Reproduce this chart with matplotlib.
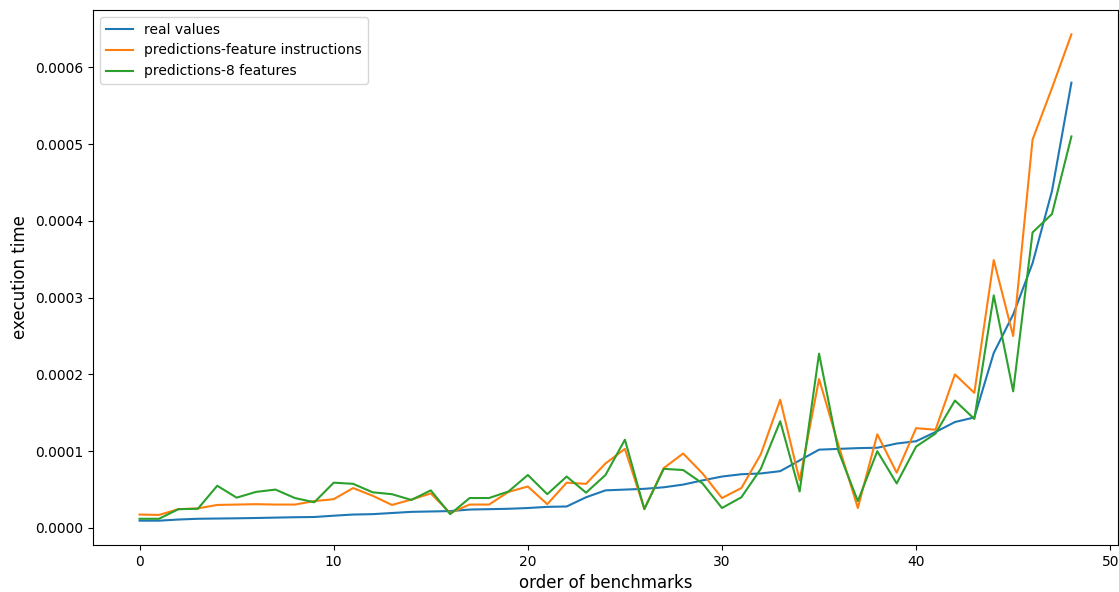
import matplotlib
matplotlib.use('Agg')
import matplotlib.pyplot as plt
import numpy as np

# values in microseconds-ish units (x1e-6)
real_values = [9.5, 9.5, 11, 12, 12.3, 12.6, 13, 13.5, 14, 14.3,
               16, 17.5, 18, 19.5, 21, 21.5, 22, 24, 24.5, 25,
               26, 27.5, 28, 40, 49, 50, 51, 53, 56.5, 62,
               67, 70, 71, 74, 88, 102, 103, 104, 104.5, 110,
               113, 125, 138, 144, 228, 278, 345, 439, 580]
pred_instructions = [17.5, 17, 24.5, 25.5, 30, 30.5, 31, 30.5, 30.5, 35,
                     37.5, 52, 42, 30, 37, 45, 19.5, 30.5, 30.5, 47,
                     54, 31, 59, 57.5, 84, 103, 25, 78, 97, 71,
                     39, 52, 96, 167, 62, 194, 108, 26, 122, 72,
                     130, 128, 200, 176, 349, 250, 506, 573, 643]
pred_8_features = [12, 12, 24.5, 25, 55, 39.5, 47, 50, 39, 33.5,
                   59, 57.5, 46.5, 44, 36.5, 49, 18, 39, 39, 47.5,
                   69, 44, 67, 46, 69, 115, 24.5, 77, 75.5, 58,
                   26, 40, 77, 139, 47.5, 227, 100, 35, 100, 58,
                   106, 123, 166, 142, 303, 178, 385, 409, 510]

real_values = np.array(real_values) * 1e-6
pred_instructions = np.array(pred_instructions) * 1e-6
pred_8_features = np.array(pred_8_features) * 1e-6
x = np.arange(len(real_values))

fig = plt.figure(figsize=(11.19, 5.92), dpi=100)
ax = fig.add_axes([93 / 1119, 47 / 592, 1025 / 1119, 535 / 592])
ax.plot(x, real_values, label='real values')
ax.plot(x, pred_instructions, label='predictions-feature instructions')
ax.plot(x, pred_8_features, label='predictions-8 features')
ax.set_xlabel('order of benchmarks', fontsize=12)
ax.set_ylabel('execution time', fontsize=12)
ax.tick_params(labelsize=10)
ax.legend(loc='upper left', fontsize=10)
fig.savefig('out.png', dpi=100)
